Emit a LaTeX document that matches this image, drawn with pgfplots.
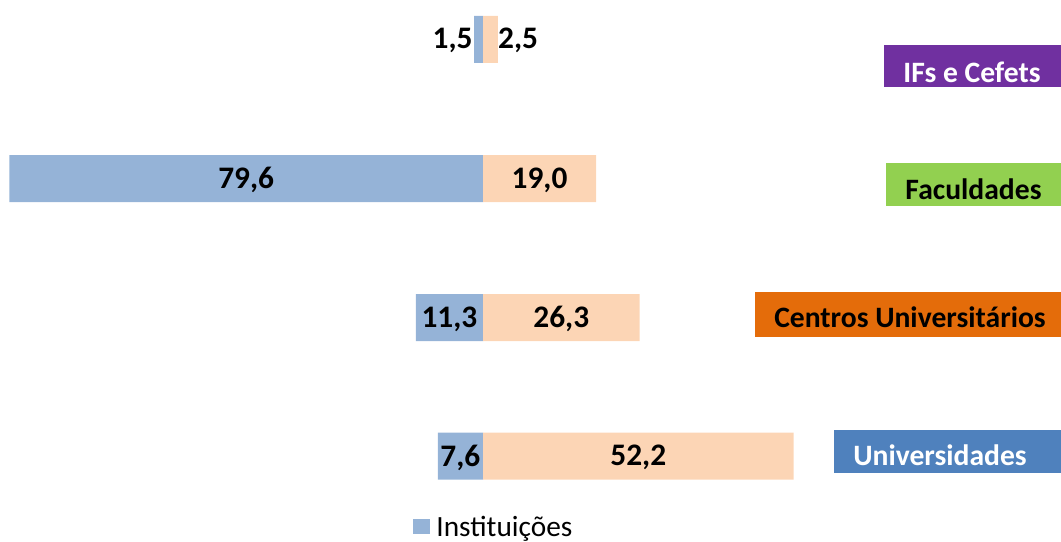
\documentclass[border=0pt]{standalone}
\usepackage{fontspec}
\setmainfont{Carlito}
\usepackage{pgfplots}
\pgfplotsset{compat=1.18}
\definecolor{instblue}{HTML}{95B3D7}
\definecolor{peach}{HTML}{FCD5B5}
\definecolor{ifpurple}{HTML}{7030A0}
\definecolor{facgreen}{HTML}{92D050}
\definecolor{cuorange}{HTML}{E46C0A}
\definecolor{unblue}{HTML}{4F81BD}
\newcommand{\numfont}{\fontsize{23.5}{27}\selectfont\bfseries}
\newcommand{\tagfont}{\fontsize{22.2}{26}\selectfont\bfseries}

\begin{document}
\begin{tikzpicture}
\begin{axis}[
  width=795.75pt, height=406.5pt, scale only axis,
  hide axis, clip=false,
  xmin=-81.18, xmax=97.14, ymin=0, ymax=542, y dir=reverse,
  xbar, bar width=47, bar shift=0pt,
  legend style={at={(axis cs:-11.8,527.5)}, anchor=west, draw=none, fill=none,
    font=\fontsize{22}{24}\selectfont, inner sep=0pt},
  legend image code/.code={\fill[#1] (0pt,-4.6pt) rectangle (12.5pt,6.6pt);},
  legend cell align=left,
  legend style={/tikz/every even column/.append style={column sep=3pt}},
]
\path (rel axis cs:0,0) (rel axis cs:1,1);
% Instituicoes (left)
\addplot[fill=instblue, draw=none] coordinates {(-1.5,39.5) (-79.6,178.5) (-11.3,317.5) (-7.6,456)};
\addlegendentry{\hspace{3pt}Instituições}
% other share (right)
\addplot[fill=peach, draw=none, forget plot] coordinates {(2.5,39.5) (19.0,178.5) (26.3,317.5) (52.2,456)};

\node[font=\numfont, anchor=east, inner sep=1pt] at (axis cs:-1.5,40.5) {1,5};
\node[font=\numfont, anchor=west, inner sep=0pt] at (axis cs:2.5,40.5) {2,5};
\node[font=\numfont] at (axis cs:-39.8,180) {79,6};
\node[font=\numfont] at (axis cs:9.5,180) {19,0};
\node[font=\numfont] at (axis cs:-5.65,319) {11,3};
\node[font=\numfont] at (axis cs:13.15,319) {26,3};
\node[font=\numfont] at (axis cs:-3.8,457.5) {7,6};
\node[font=\numfont] at (axis cs:26.1,457.5) {52,2};
\end{axis}

% category tags, in pixel units of the reference
\begin{scope}[x=0.75pt, y=-0.75pt, yshift=406.5pt]
  \fill[ifpurple] (884,45) rectangle (1061,87);
  \node[font=\tagfont, text=white, anchor=base] at (972,83) {IFs e Cefets};
  \fill[facgreen] (886,163) rectangle (1061,206);
  \node[font=\tagfont, text=black, anchor=base] at (973.5,200) {Faculdades};
  \fill[cuorange] (755,292) rectangle (1061,337);
  \node[font=\tagfont, text=black, anchor=base] at (910,328) {Centros Universitários};
  \fill[unblue] (834,430) rectangle (1061,473);
  \node[font=\tagfont, text=white, anchor=base] at (940,466) {Universidades};
\end{scope}
\end{tikzpicture}
\end{document}
